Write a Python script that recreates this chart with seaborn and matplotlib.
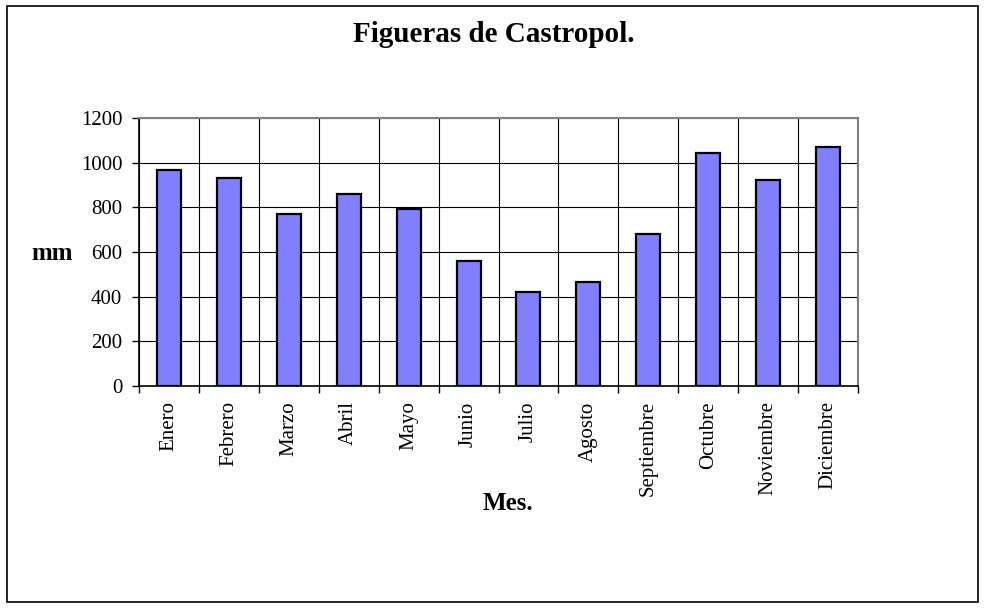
import matplotlib
matplotlib.use("Agg")
import matplotlib.pyplot as plt
import seaborn as sns
import pandas as pd
import numpy as np
from matplotlib.patches import Rectangle

meses = ["Enero", "Febrero", "Marzo", "Abril", "Mayo", "Junio", "Julio",
         "Agosto", "Septiembre", "Octubre", "Noviembre", "Diciembre"]
mm = [966, 933, 769, 860, 794, 561, 421, 466, 682, 1045, 924, 1069]
yticks = [0, 200, 400, 600, 800, 1000, 1200]

sns.set_theme(style="white")
plt.rcParams["font.family"] = ["Liberation Serif", "DejaVu Serif"]
plt.rcParams["text.color"] = "black"
plt.rcParams["xtick.color"] = "black"
plt.rcParams["ytick.color"] = "black"

df = pd.DataFrame({"Mes": meses, "mm": mm})

fig = plt.figure(figsize=(9.85, 6.08), dpi=100)
ax = fig.add_axes([139/985, 1-386/608, (858-139)/985, (386-118)/608])

sns.barplot(data=df, x="Mes", y="mm", color="#8080FF", width=0.4,
            edgecolor="black", linewidth=1.6, saturation=1, ax=ax, zorder=3)

ax.set_xlim(-0.5, len(meses) - 0.5)
ax.set_ylim(0, 1200)
ax.set_yticks(yticks)
ax.set_yticklabels([str(v) for v in yticks], fontsize=15, color="black")
ax.set_xticks(range(len(meses)))
ax.set_xticklabels(meses, rotation=90, fontsize=15, color="black")
ax.tick_params(axis="x", which="major", length=0, pad=11)
ax.set_xticks(np.arange(-0.5, len(meses), 1), minor=True)
ax.tick_params(axis="x", which="minor", length=5, width=1, color="black", direction="out", bottom=True)
ax.tick_params(axis="y", which="major", length=5, width=1, color="black", direction="out", left=True, pad=7)

ax.grid(False)
ax.yaxis.grid(True, color="black", linewidth=0.8, zorder=0)
ax.xaxis.grid(True, which="minor", color="black", linewidth=0.8, zorder=0)
ax.set_axisbelow(True)

for s in ["left", "bottom"]:
    ax.spines[s].set_color("black")
    ax.spines[s].set_linewidth(1.2)
for s in ["top", "right"]:
    ax.spines[s].set_color("#808080")
    ax.spines[s].set_linewidth(1.5)

ax.set_xlabel("")
ax.set_ylabel("")
fig.text(494/985, 1-42/608, "Figueras de Castropol.", ha="center", va="baseline",
         fontsize=21, fontweight="bold", color="black")
fig.text(52/985, 1-253/608, "mm", ha="center", va="center",
         fontsize=18, fontweight="bold", color="black")
fig.text(508/985, 1-503/608, "Mes.", ha="center", va="center",
         fontsize=18, fontweight="bold", color="black")

fig.patches.append(Rectangle((7/985, 6/608), (978-7)/985, (602-6)/608,
                             transform=fig.transFigure, fill=False,
                             edgecolor="black", linewidth=1.2))

fig.savefig("out.png", dpi=100)
